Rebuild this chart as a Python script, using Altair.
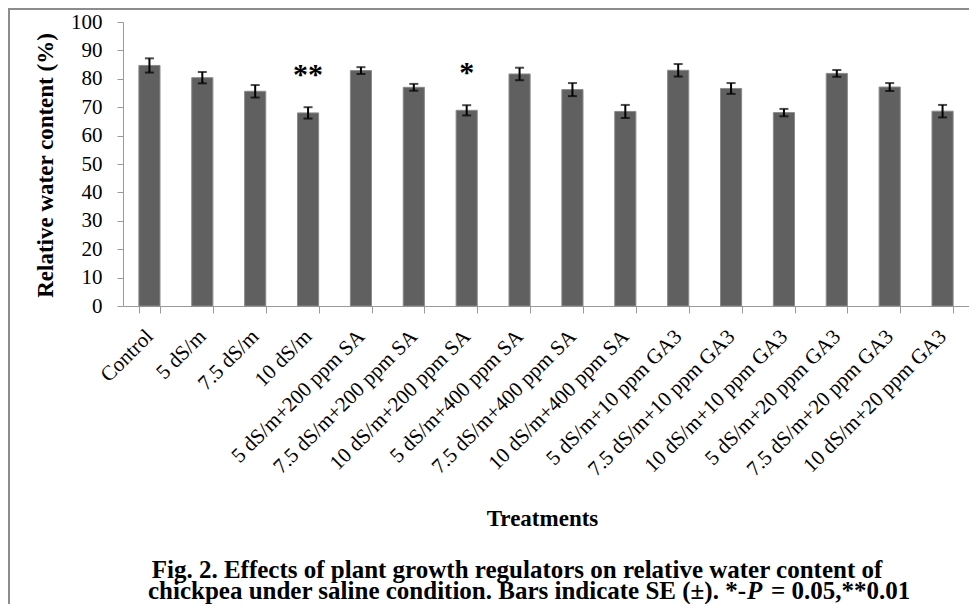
import altair as alt
import pandas as pd

treatments = [
    "Control", "5 dS/m", "7.5 dS/m", "10 dS/m",
    "5 dS/m+200 ppm SA", "7.5 dS/m+200 ppm SA", "10 dS/m+200 ppm SA",
    "5 dS/m+400 ppm SA", "7.5 dS/m+400 ppm SA", "10 dS/m+400 ppm SA",
    "5 dS/m+10 ppm GA3", "7.5 dS/m+10 ppm GA3", "10 dS/m+10 ppm GA3",
    "5 dS/m+20 ppm GA3", "7.5 dS/m+20 ppm GA3", "10 dS/m+20 ppm GA3",
]
means = [84.7, 80.4, 75.6, 68.0, 82.9, 77.0, 68.9, 81.7, 76.2, 68.5,
         83.0, 76.6, 68.1, 81.9, 77.1, 68.6]
se = [2.5, 2.0, 2.2, 2.0, 1.2, 1.2, 1.8, 2.2, 2.3, 2.3,
      2.2, 1.9, 1.3, 1.2, 1.4, 2.2]
signif = ["", "", "", "**", "", "", "*", "", "", "", "", "", "", "", "", ""]

y_ticks = [0, 10, 20, 30, 40, 50, 60, 70, 80, 90, 100]

caption1 = "Fig. 2. Effects of plant growth regulators on relative water content of"
caption2a = "chickpea under saline condition. Bars indicate SE (\u00b1). *-"
caption2b = "P"
caption2c = "= 0.05,**0.01"

df = pd.DataFrame({"treatment": treatments, "mean": means, "se": se, "sig": signif})
df["lo"] = df["mean"] - df["se"]
df["hi"] = df["mean"] + df["se"]

SERIF = "Liberation Serif"
GRAY = "#9a9a9a"

xscale = alt.Scale(paddingInner=0.6, paddingOuter=0.3)
xaxis = alt.Axis(
    title="Treatments", titleFont=SERIF, titleFontSize=23, titleFontWeight="bold",
    titleColor="black", titleY=219, titleX=419, titleBaseline="alphabetic",
    labelFont=SERIF, labelFontSize=21, labelColor="black", labelAngle=-45,
    labelAlign="right", labelBaseline="middle", labelPadding=20, labelLimit=400,
    labelOverlap=False, tickSize=7, tickColor=GRAY, domainColor=GRAY,
    tickBand="extent", grid=False,
)
yscale = alt.Scale(domain=[0, 100], nice=False, zero=True)
yaxis = alt.Axis(
    title="Relative water content (%)", titleFont=SERIF, titleFontSize=23,
    titleFontWeight="bold", titleColor="black", titleX=-71, titleY=143,
    titleAngle=270, titleBaseline="alphabetic", titleAlign="center",
    values=y_ticks, tickCount=11, labelOverlap=False, labelFont=SERIF,
    labelFontSize=21, labelColor="black", labelPadding=15, tickSize=6,
    tickColor=GRAY, domainColor=GRAY, grid=False,
)

def xe():
    return alt.X("treatment:N", sort=treatments, scale=xscale, axis=xaxis)

def ye(field):
    return alt.Y(field, scale=yscale, axis=yaxis)

base = alt.Chart(df)

bars = base.mark_bar(color="#606060", stroke="#8a8a8a", strokeWidth=1).encode(
    x=xe(), y=ye("mean:Q")
)
rules = base.mark_rule(color="black", strokeWidth=2).encode(
    x=xe(), y=ye("lo:Q"), y2="hi:Q"
)
cap_lo = base.mark_tick(color="black", thickness=2, size=9).encode(
    x=xe(), y=ye("lo:Q")
)
cap_hi = base.mark_tick(color="black", thickness=2, size=9).encode(
    x=xe(), y=ye("hi:Q")
)
stars = base.transform_filter("datum.sig != ''").mark_text(
    font=SERIF, fontSize=30, fontWeight="bold", color="black",
    baseline="alphabetic", dy=-23,
).encode(x=xe(), y=ye("hi:Q"), text="sig:N")

one = pd.DataFrame({"a": [0]})
border = alt.Chart(one).mark_rect(
    fill="transparent", stroke="#8c8c8c", strokeWidth=2
).encode(x=alt.value(-114), x2=alt.value(1200), y=alt.value(-13), y2=alt.value(900))

CAP_SIZE = 25
P_X = 624
cap1 = alt.Chart(pd.DataFrame({"t": [caption1]})).mark_text(
    font=SERIF, fontSize=CAP_SIZE, fontWeight="bold", color="black",
    align="center", baseline="alphabetic",
).encode(text="t:N", x=alt.value(394), y=alt.value(556))
cap2a = alt.Chart(pd.DataFrame({"t": [caption2a]})).mark_text(
    font=SERIF, fontSize=CAP_SIZE, fontWeight="bold", color="black",
    align="right", baseline="alphabetic",
).encode(text="t:N", x=alt.value(P_X - 1), y=alt.value(577))
cap2b = alt.Chart(pd.DataFrame({"t": [caption2b]})).mark_text(
    font=SERIF, fontSize=CAP_SIZE, fontWeight="bold", fontStyle="italic", color="black",
    align="left", baseline="alphabetic",
).encode(text="t:N", x=alt.value(P_X), y=alt.value(577))
cap2c = alt.Chart(pd.DataFrame({"t": [caption2c]})).mark_text(
    font=SERIF, fontSize=CAP_SIZE, fontWeight="bold", color="black",
    align="left", baseline="alphabetic",
).encode(text="t:N", x=alt.value(P_X + 24), y=alt.value(577))

chart = alt.layer(
    border, bars, rules, cap_lo, cap_hi, stars, cap1, cap2a, cap2b, cap2c
).properties(
    width=846, height=284,
    autosize=alt.AutoSizeParams(type="none"),
    padding={"left": 115, "top": 14, "right": 0, "bottom": 298},
    background="white",
).configure_view(stroke=None)

chart.save("out.html", embed_options={"renderer": "svg", "actions": False})
